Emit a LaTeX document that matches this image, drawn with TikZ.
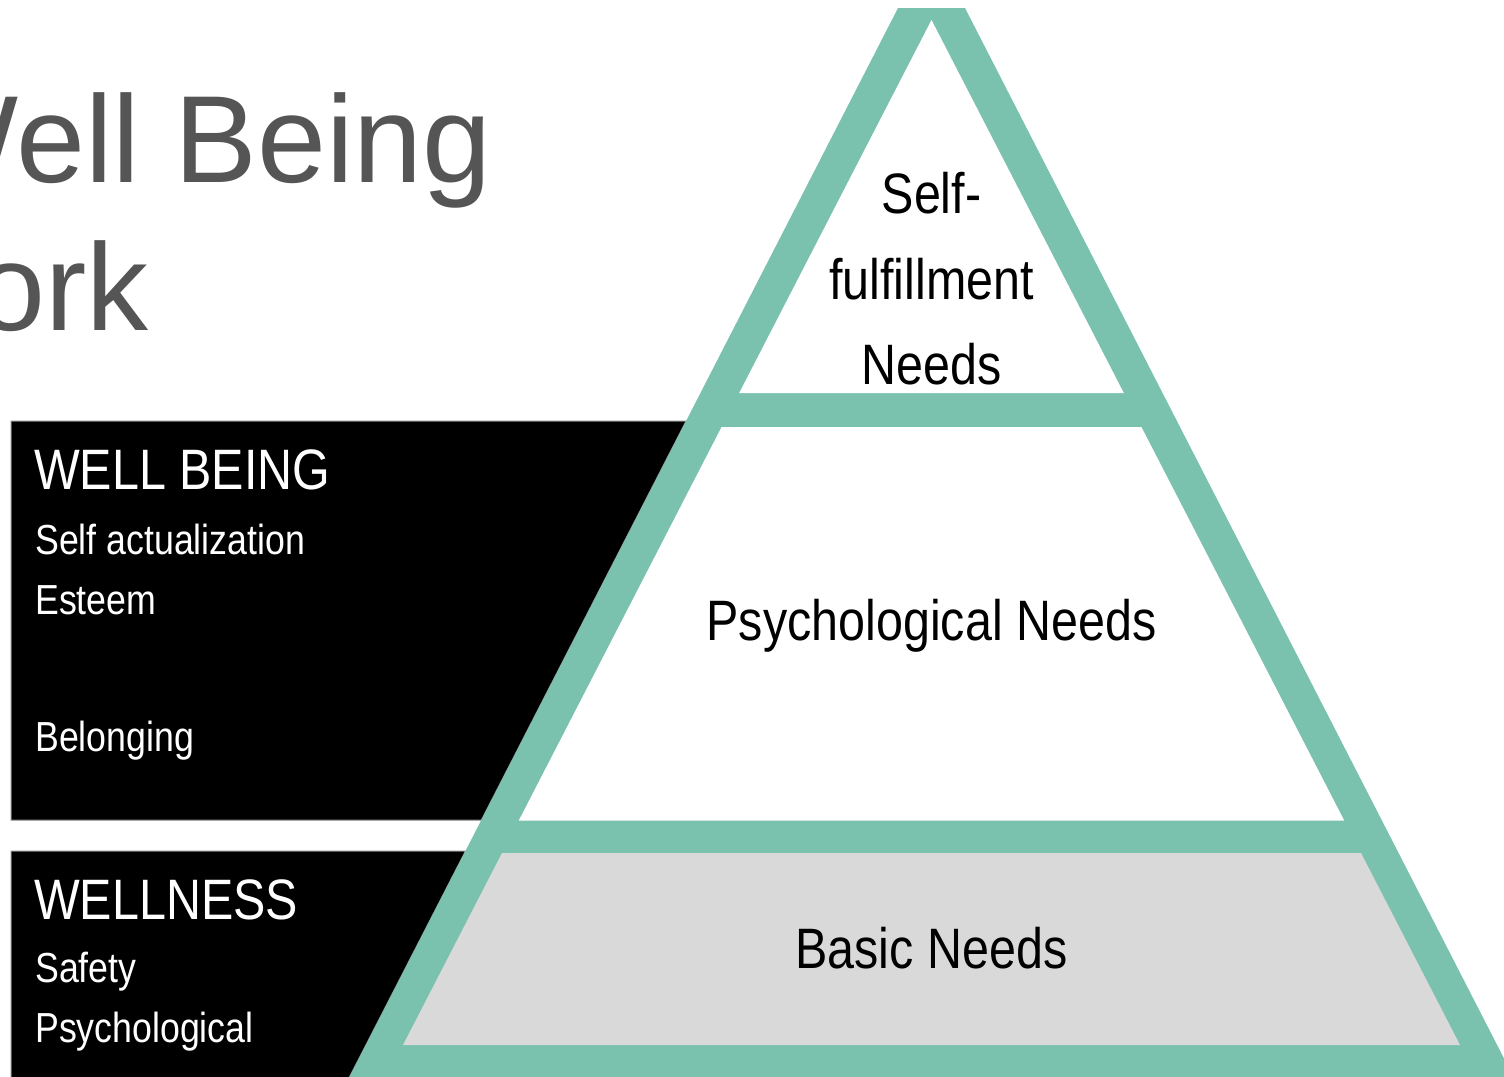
\documentclass[tikz,border=0pt]{standalone}
\usepackage{fontspec}
\setmainfont{Liberation Sans}
\newfontfamily\narrowfont[FakeStretch=0.85]{Liberation Sans}
\definecolor{pyrteal}{RGB}{122,193,174}
\definecolor{basegray}{RGB}{217,217,217}
\definecolor{titlegray}{RGB}{85,85,85}
\begin{document}
\begin{tikzpicture}[x=1pt,y=-1pt,
  band/.style={fill=pyrteal},
  cell/.style={fill=white},
  basecell/.style={fill=basegray},
  blackbox/.style={fill=black, draw=black!45, line width=1pt},
  titletext/.style={inner sep=0pt, anchor=base east, text=titlegray,
    font=\fontsize{124}{124}\selectfont},
  headtext/.style={inner sep=0pt, anchor=base west, text=white,
    font=\narrowfont\fontsize{57}{57}\selectfont},
  itemtext/.style={inner sep=0pt, anchor=base west, text=white,
    font=\narrowfont\fontsize{42}{42}\selectfont},
  leveltext/.style={inner sep=0pt, anchor=base, text=black,
    font=\narrowfont\fontsize{57}{57}\selectfont},
]
\path[use as bounding box] (0,0) rectangle (1504,1076);
\clip (0,0) rectangle (1504,1076);

% title, running off the left edge
\node[titletext] (title1) at (492,182) {Well Being};
\node[titletext] (title2) at (149,330) {Work};

% black side panels, their right side tucked under the pyramid edge
\path[blackbox] (11,421) -- (686.1,421) -- (481.4,820) -- (11,820) -- cycle;
\path[blackbox] (11,851) -- (465.5,851) -- (342.8,1090) -- (11,1090) -- cycle;

% pyramid frame
\path[band] (898,8) -- (965,8) -- (1520.2,1090) -- (342.8,1090) -- cycle;

% pyramid levels
\path[cell] (931.5,20) -- (1123.8,393) -- (739.2,393) -- cycle;
\path[cell] (721.6,427) -- (1141.4,427) -- (1344.2,820.5) -- (518.8,820.5) -- cycle;
\path[basecell] (502,853) -- (1361,853) -- (1460,1045) -- (403,1045) -- cycle;

% level labels
\node[leveltext] (top1) at (931.5,213) {Self-};
\node[leveltext] (top2) at (931.5,299) {fulfillment};
\node[leveltext] (top3) at (931.5,384) {Needs};
\node[leveltext] (mid) at (931.5,640) {Psychological Needs};
\node[leveltext] (base) at (931.5,968) {Basic Needs};

% panel texts
\node[headtext] (wb) at (34,489) {WELL BEING};
\node[itemtext] (wb1) at (35,554) {Self actualization};
\node[itemtext] (wb2) at (35,614) {Esteem};
\node[itemtext] (wb3) at (35,751) {Belonging};
\node[headtext] (wn) at (34,919) {WELLNESS};
\node[itemtext] (wn1) at (35,982) {Safety};
\node[itemtext] (wn2) at (35,1042) {Psychological};
\end{tikzpicture}
\end{document}
